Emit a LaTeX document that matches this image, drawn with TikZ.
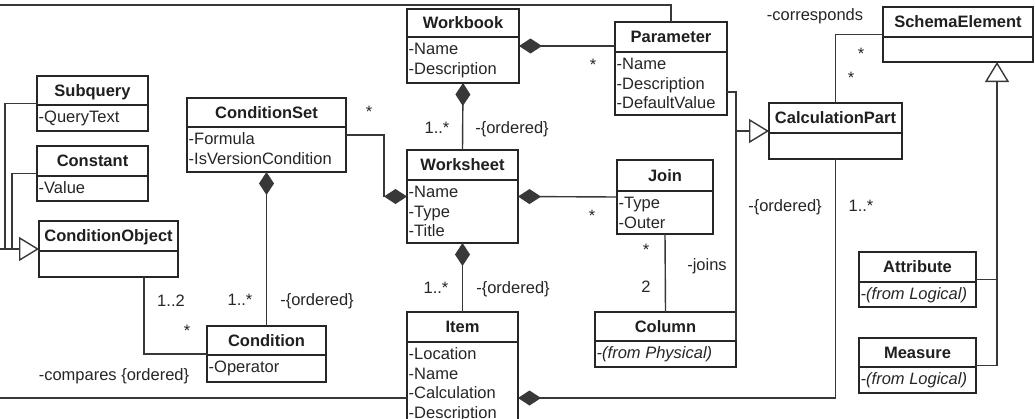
\documentclass[tikz,border=0pt]{standalone}
\usepackage{fontspec}
\setmainfont{Liberation Sans}
\usetikzlibrary{arrows.meta}
\tikzset{
  ln/.style={draw=black!78, line width=1.4pt},
  classbox/.style={draw=black!85, line width=1.4pt, fill=white, inner sep=0pt, outer sep=0pt},
  titletext/.style={font=\fontsize{16.5}{19}\selectfont\bfseries, anchor=base, inner sep=0pt, text=black!88},
  attrtext/.style={font=\fontsize{16.5}{19}\selectfont, anchor=base west, inner sep=0pt, text=black!85},
  lbl/.style={font=\fontsize{16.5}{19}\selectfont, inner sep=0pt, text height=11.5pt, text depth=0pt, text=black!85},
  compstart/.style={ln, {Diamond[length=23pt,width=15pt]}-},
  compend/.style={ln, -{Diamond[length=23pt,width=15pt]}},
  gentip/.style={ln, -{Triangle[length=20pt,width=24pt,fill=white]}},
}
% name, x1, y1, x2, y-header, y2, title, attributes
\newcommand\umlclass[8]{%
  \node[classbox, minimum width={(#4-#2)*1pt}, minimum height={(#6-#3)*1pt}] (#1) at ({(#2+#4)/2},{(#3+#6)/2}) {};
  \draw[classbox] (#2,#5) -- (#4,#5);
  \node[titletext] at ({(#2+#4)/2},{(#3+#5)/2+5.8}) {#7};
  \foreach \atx [count=\idx from 0] in {#8} {\node[attrtext] at ({#2+1.5},{#5+17.5+19.5*\idx}) {\atx};}
}
\begin{document}
\begin{tikzpicture}[x=1pt,y=-1pt]
\useasboundingbox (0,0) rectangle (1035,418);
\fill[white] (0,0) rectangle (1035,418);
\clip (0,0) rectangle (1035,418);

% classes
\umlclass{wb}{407}{9}{519}{37}{83}{Workbook}{-Name,-Description}
\umlclass{param}{615}{22}{727}{52}{115}{Parameter}{-Name,-Description,-DefaultValue}
\umlclass{subq}{37}{76}{148}{105}{131}{Subquery}{-QueryText}
\umlclass{const}{37}{146}{148}{176}{201}{Constant}{-Value}
\umlclass{condset}{187}{98}{346}{127}{172}{ConditionSet}{-Formula,-IsVersionCondition}
\umlclass{ws}{407}{150}{518}{180}{243}{Worksheet}{-Name,-Type,-Title}
\umlclass{join}{617}{160}{713}{191}{234}{Join}{-Type,-Outer}
\umlclass{condobj}{39}{221}{178}{251}{277}{ConditionObject}{}
\umlclass{cond}{207}{326}{326}{355}{382}{Condition}{-Operator}
\umlclass{item}{407}{312}{518}{342}{426}{Item}{-Location,-Name,-Calculation,-Description}
\umlclass{col}{595}{312}{736}{341}{367}{Column}{\textit{-(from Physical)}}
\umlclass{calc}{769}{103}{902}{133}{159}{CalculationPart}{}
\umlclass{schema}{883}{7}{1033}{37}{62}{SchemaElement}{}
\umlclass{attr}{859}{252}{976}{282}{307}{Attribute}{\textit{-(from Logical)}}
\umlclass{meas}{859}{338}{976}{367}{393}{Measure}{\textit{-(from Logical)}}

% free ends and junctions
\coordinate (topfree) at (0,5);
\coordinate (botfree) at (0,398);
\coordinate (leftfree) at (0,249);
\coordinate (gen1) at (19,249);
\coordinate (gen3) at (997,82);

% connectors
\draw[ln] (param.north) |- (topfree);
\draw[ln] (botfree) -- (botfree -| item.west);

\draw[ln] (subq.west) -| (5,249) -- (gen1);
\draw[ln] (const.west) -| (12,249) -- (gen1);
\draw[ln] (leftfree) -- (gen1);
\draw[gentip] (gen1) -- (condobj.west);

\draw[ln] ([xshift=35.5pt]condobj.south) |- (cond.west);
\draw[compstart] (condset.south) -- (cond.north);
\draw[compend] (condset.east) -| ([xshift=-23pt]ws.west) -- (ws.west);
\draw[compstart] (wb.south) -- (ws.north);
\draw[compstart] (wb.east) -- (wb.east -| param.west);
\draw[compstart] (ws.east) -- (join.west);
\draw[compstart] (ws.south) -- (item.north);
\draw[ln] (join.south) -- (col.north);

\draw[ln] ([yshift=-23.5pt]param.east) -| (col.east);
\draw[gentip] (col.east |- calc.west) -- (calc.west);
\draw[ln] (calc.north) |- (schema.west);
\draw[compstart] (item.east |- botfree) -| (calc.south);

\draw[ln] (attr.east) -| (gen3);
\draw[ln] (meas.east) -| (gen3);
\draw[gentip] (gen3) -- (gen3 |- schema.south);

% labels
\node[lbl] at (593,65) {*};
\node[lbl] at (369,112) {*};
\node[lbl] at (437,128) {1..*};
\node[lbl] at (512,128) {-\{ordered\}};
\node[lbl] at (592,216) {*};
\node[lbl] at (436,288) {1..*};
\node[lbl] at (513,288) {-\{ordered\}};
\node[lbl] at (646,250) {*};
\node[lbl] at (707,265) {-joins};
\node[lbl] at (646,287) {2};
\node[lbl] at (785,206) {-\{ordered\}};
\node[lbl] at (861,206) {1..*};
\node[lbl] at (861,54) {*};
\node[lbl] at (851,78) {*};
\node[lbl] at (815,15) {-corresponds};
\node[lbl] at (240,300) {1..*};
\node[lbl] at (317,300) {-\{ordered\}};
\node[lbl] at (171,301) {1..2};
\node[lbl] at (187,331) {*};
\node[lbl] at (114,375) {-compares \{ordered\}};
\end{tikzpicture}
\end{document}
